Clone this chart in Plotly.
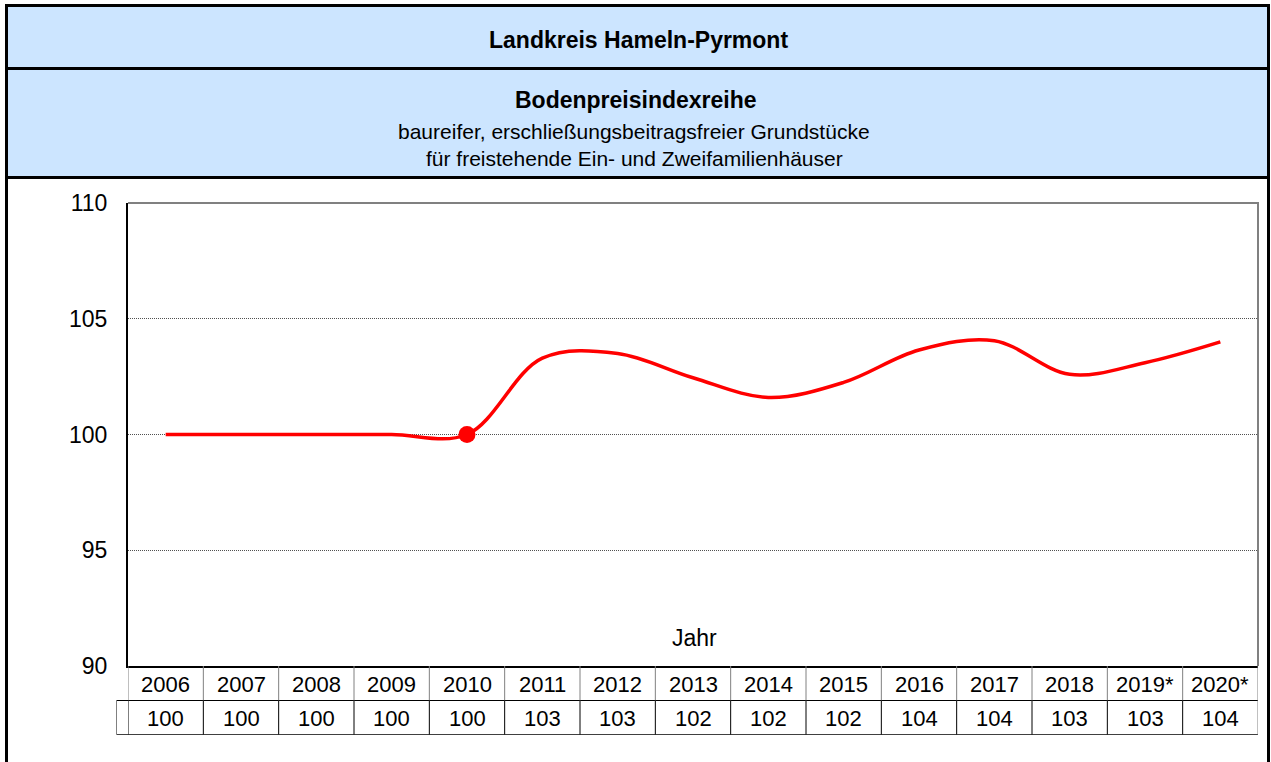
import plotly.graph_objects as go

# ---- data ----
years = [2006, 2007, 2008, 2009, 2010, 2011, 2012, 2013, 2014, 2015, 2016, 2017, 2018, 2019, 2020]
year_labels = ["2006", "2007", "2008", "2009", "2010", "2011", "2012", "2013", "2014",
               "2015", "2016", "2017", "2018", "2019*", "2020*"]
index_values = [100, 100, 100, 100, 100, 103.3, 103.5, 102.45, 101.6, 102.25, 103.65, 104.05, 102.6, 103.1, 104.0]
table_values = ["100", "100", "100", "100", "100", "103", "103", "102", "102", "102", "104", "104", "103", "103", "104"]
base_year = 2010
base_value = 100
y_ticks = [90, 95, 100, 105, 110]

title = "Landkreis Hameln-Pyrmont"
heading = "Bodenpreisindexreihe"
sub1 = "baureifer, erschließungsbeitragsfreier Grundstücke"
sub2 = "für freistehende Ein- und Zweifamilienhäuser"

# ---- layout geometry (pixels) ----
W, H = 1271, 762
L, R, T, B = 128, 1258, 203, 666
FONT = "Liberation Sans, Arial, sans-serif"
BLUE = "#CCE5FF"


def px(p):
    return (p - L) / (R - L)


def py(p):
    return (B - p) / (B - T)


fig = go.Figure()
fig.add_trace(go.Scatter(
    x=years, y=index_values, mode="lines",
    line=dict(color="#FF0000", width=3.5, shape="spline", smoothing=1.0),
    hoverinfo="skip", showlegend=False))
fig.add_trace(go.Scatter(
    x=[base_year], y=[base_value], mode="markers",
    marker=dict(color="#FF0000", size=17), hoverinfo="skip", showlegend=False))

shapes = []
# header bands
shapes.append(dict(type="rect", xref="paper", yref="paper",
                   x0=px(6.5), x1=px(1268.5), y0=py(5.5), y1=py(68.5),
                   fillcolor=BLUE, line=dict(color="black", width=3), layer="above"))
shapes.append(dict(type="rect", xref="paper", yref="paper",
                   x0=px(6.5), x1=px(1268.5), y0=py(68.5), y1=py(177.5),
                   fillcolor=BLUE, line=dict(color="black", width=3), layer="above"))
# outer frame sides
for xp in (6.5, 1268.5):
    shapes.append(dict(type="line", xref="paper", yref="paper",
                       x0=px(xp), x1=px(xp), y0=py(5), y1=py(775),
                       line=dict(color="black", width=3), layer="above"))
# plot top / right border (grey)
shapes.append(dict(type="line", xref="paper", yref="paper",
                   x0=0, x1=px(R + 1), y0=1, y1=1, line=dict(color="#808080", width=2)))
shapes.append(dict(type="line", xref="paper", yref="paper",
                   x0=1, x1=1, y0=0, y1=1, line=dict(color="#808080", width=2)))

# data table lines
row1_top, row1_bot, row2_bot = 666, 700.5, 734.5
shapes.append(dict(type="line", xref="paper", yref="paper",
                   x0=px(116.5), x1=1, y0=py(row1_bot), y1=py(row1_bot),
                   line=dict(color="black", width=1)))
shapes.append(dict(type="line", xref="paper", yref="paper",
                   x0=px(116.5), x1=1, y0=py(row2_bot), y1=py(row2_bot),
                   line=dict(color="#404040", width=1)))
shapes.append(dict(type="line", xref="paper", yref="paper",
                   x0=px(116.5), x1=px(116.5), y0=py(row1_bot), y1=py(row2_bot),
                   line=dict(color="#808080", width=1)))
edges = [y - 0.5 for y in years] + [years[-1] + 0.5]
for i, e in enumerate(edges):
    last = i == len(edges) - 1
    shapes.append(dict(type="line", xref="x", yref="paper",
                       x0=e, x1=e, y0=py(row1_top), y1=py(row1_bot),
                       line=dict(color="#808080", width=1)))
    shapes.append(dict(type="line", xref="x", yref="paper",
                       x0=e, x1=e, y0=py(row1_bot), y1=py(row2_bot),
                       line=dict(color="#808080" if last else "black", width=1)))


def ann(text, x, y, size, xref="paper"):
    return dict(text=text, xref=xref, yref="paper", x=x, y=y, showarrow=False,
                xanchor="center", yanchor="middle",
                font=dict(family=FONT, size=size, color="black"))


annotations = [
    ann("<b>" + title + "</b>", px(638), py(40), 23),
    ann("<b>" + heading + "</b>", px(636), py(100), 23),
    ann(sub1, px(634), py(131), 21),
    ann(sub2, px(634), py(158), 21),
    ann("Jahr", px(694), py(638), 23),
]
for yr, lab, val in zip(years, year_labels, table_values):
    annotations.append(ann(lab, yr, py(684), 22, xref="x"))
    annotations.append(ann(val, yr, py(718), 22, xref="x"))

fig.update_layout(
    width=W, height=H,
    margin=dict(l=L, r=W - R, t=T, b=H - B, pad=0),
    paper_bgcolor="white", plot_bgcolor="white",
    showlegend=False,
    shapes=shapes, annotations=annotations,
    xaxis=dict(range=[years[0] - 0.5, years[-1] + 0.5], showgrid=False, zeroline=False,
               showticklabels=False, ticks="", showline=True, linecolor="black", linewidth=2,
               fixedrange=True),
    yaxis=dict(range=[y_ticks[0], y_ticks[-1]], tickvals=y_ticks, ticks="",
               showgrid=True, gridcolor="#505050", gridwidth=1, griddash="1px,1px",
               zeroline=False, showline=True, linecolor="black", linewidth=2,
               ticklabelstandoff=14,
               tickfont=dict(family=FONT, size=23, color="black"), fixedrange=True),
)

fig.write_html("out.html", config={"displayModeBar": False},
               post_script="document.body.style.margin='0';document.body.style.overflow='hidden';")
